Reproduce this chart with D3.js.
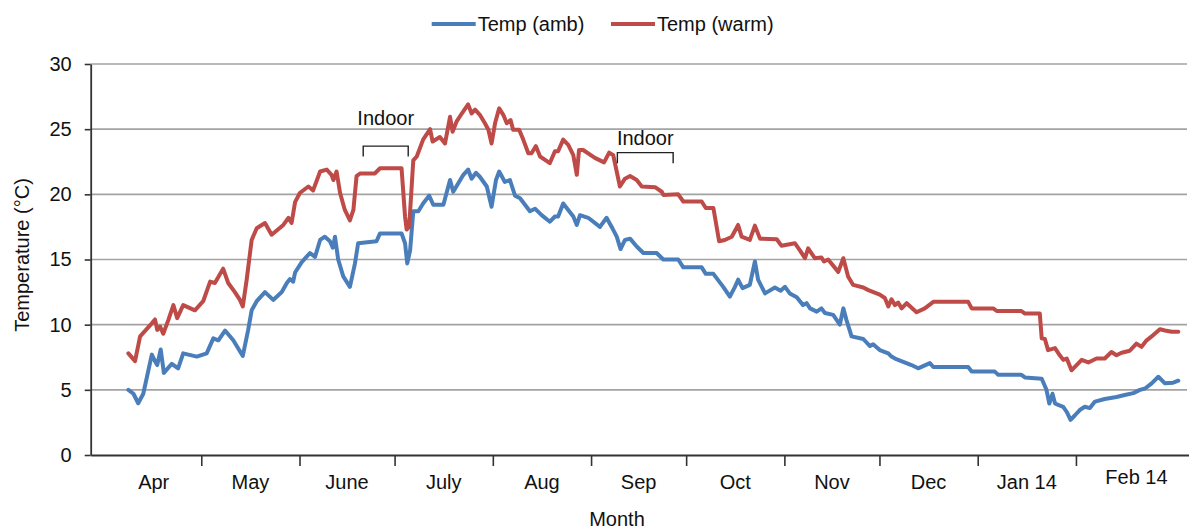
<!DOCTYPE html>
<html><head><meta charset="utf-8">
<script src="https://cdn.jsdelivr.net/npm/d3@7"></script>
<style>
body{margin:0;background:#fff}
svg text{font-family:"Liberation Sans",Arial,Helvetica,sans-serif;fill:#111}
</style>
</head><body>
<svg id="chart" width="1189" height="531"></svg>
<script>
// ---- data (day = days after 2013-04-01) ----
const seriesNames = ["Temp (amb)", "Temp (warm)"];
const warmDays = [7.0,9.1,10.7,14.4,15.4,16.1,17.0,18.0,19.6,21.2,22.4,24.3,28.0,30.6,32.8,34.3,36.9,38.5,40.6,42.2,43.1,44.3,45.9,47.5,50.1,52.2,55.9,57.5,58.5,59.6,61.1,63.8,65.3,67.5,69.6,71.1,71.7,72.7,73.8,75.3,76.9,78.0,79.0,80.1,84.8,86.4,93.2,94.3,94.8,95.6,96.9,98.0,100.0,102.2,103.0,105.3,106.9,108.5,109.3,110.6,112.2,114.2,115.3,116.4,117.9,119.5,120.6,121.6,122.7,124.0,125.3,126.4,127.6,128.4,130.3,131.6,133.2,134.2,135.6,136.9,140.0,141.6,142.6,144.2,145.8,147.4,148.5,149.2,150.5,154.2,157.1,158.7,160.0,162.1,163.7,165.3,167.4,169.0,173.2,175.3,175.8,180.5,182.1,187.9,189.2,191.6,193.4,195.2,197.4,199.4,200.5,203.1,204.7,206.3,211.6,213.1,217.3,218.9,220.5,221.5,223.6,225.7,226.5,227.8,231.0,232.6,234.1,235.7,238.9,240.5,244.1,245.7,246.8,247.8,248.9,249.9,251.0,252.6,255.7,258.3,261.0,272.0,273.1,279.9,281.0,288.8,289.9,294.6,295.2,296.2,297.2,299.4,300.9,302.0,303.1,304.6,306.2,307.8,309.9,312.5,315.1,317.2,318.8,320.4,323.0,325.1,326.7,328.3,330.4,332.5,334.1,336.2,338.3];
const warmTemps = [7.8,7.2,9.1,10.1,10.4,9.6,9.85,9.3,10.35,11.5,10.5,11.5,11.1,11.8,13.3,13.2,14.3,13.2,12.5,11.9,11.4,13.4,16.5,17.4,17.8,16.9,17.65,18.2,17.8,19.4,20.1,20.6,20.3,21.75,21.9,21.5,21.1,21.75,20.1,18.8,18.0,18.8,21.4,21.6,21.6,22.0,22.0,18.3,17.3,17.5,22.6,22.9,24.2,25.0,24.05,24.4,23.9,25.95,24.8,25.6,26.2,26.9,26.2,26.5,26.1,25.45,24.95,23.9,25.45,26.6,26.1,25.45,25.7,24.95,24.95,24.2,23.15,23.15,23.7,22.9,22.4,23.3,23.3,24.2,23.8,23.0,21.5,23.4,23.4,22.8,22.45,23.2,23.0,20.6,21.2,21.4,21.1,20.6,20.55,20.2,19.95,20.0,19.45,19.45,18.95,18.95,16.4,16.5,16.75,17.65,16.75,16.5,17.6,16.6,16.55,16.05,16.25,15.7,15.1,15.85,15.1,15.15,14.85,15.0,14.05,15.1,13.7,13.05,12.85,12.65,12.3,12.05,11.4,11.95,11.5,11.7,11.25,11.65,10.95,11.25,11.75,11.75,11.25,11.25,11.05,11.05,10.85,10.85,8.95,8.9,8.05,8.2,7.65,7.3,7.4,6.5,6.9,7.3,7.1,7.4,7.4,7.9,7.65,7.85,8.0,8.55,8.3,8.8,9.2,9.65,9.55,9.45,9.45];
const ambDays = [7.0,8.6,10.1,11.7,14.4,15.4,16.1,17.2,18.2,20.7,22.7,24.3,28.6,31.7,33.8,35.4,37.5,40.1,43.1,44.8,45.9,47.5,50.1,52.7,55.4,57.0,58.0,59.0,59.6,61.7,64.3,65.9,67.5,69.0,70.6,71.5,72.2,73.2,74.8,76.9,78.5,79.5,85.3,86.4,93.2,94.3,95.0,95.9,96.9,98.5,100.0,101.9,103.2,106.4,108.5,109.5,111.1,112.7,114.2,115.3,116.7,117.9,120.1,121.6,123.0,124.0,125.8,127.4,129.0,130.6,133.7,135.3,137.4,140.0,141.6,142.6,144.2,145.8,147.4,148.5,149.5,152.1,155.8,157.9,159.5,161.1,162.3,163.7,165.3,167.4,169.5,173.7,175.8,180.5,182.1,187.9,189.2,191.6,194.7,196.8,198.4,199.4,200.8,203.1,204.7,205.7,207.9,211.0,212.8,214.2,215.7,217.9,219.9,221.0,222.1,224.2,225.7,226.8,229.4,231.5,232.6,233.6,235.2,238.9,241.0,242.0,244.1,246.8,247.8,248.9,251.5,254.1,256.2,259.9,261.0,272.0,273.1,280.4,281.5,288.8,289.9,295.2,296.7,297.6,298.6,299.4,300.4,302.0,303.1,304.3,305.7,307.2,308.8,310.4,312.0,315.1,318.8,321.4,324.1,326.2,327.8,329.9,332.0,334.1,336.7,338.3];
const ambTemps = [5.0,4.7,3.97,4.7,7.7,7.2,6.9,8.1,6.3,7.0,6.65,7.8,7.55,7.8,8.95,8.8,9.55,8.8,7.6,9.6,11.1,11.8,12.5,11.9,12.5,13.2,13.5,13.3,14.0,14.8,15.5,15.2,16.5,16.75,16.4,15.9,16.75,15.0,13.7,12.9,14.7,16.25,16.4,17.0,17.0,16.25,14.7,15.7,18.7,18.7,19.3,19.9,19.2,19.2,21.1,20.2,20.85,21.5,21.9,21.2,21.65,21.35,20.6,19.05,21.1,21.75,20.95,21.1,19.9,19.7,18.7,18.9,18.4,17.9,18.3,18.3,19.3,18.8,18.3,17.65,18.4,18.2,17.5,18.2,17.5,16.75,15.8,16.5,16.6,16.0,15.5,15.5,15.0,15.0,14.4,14.4,13.9,13.9,12.9,12.15,12.9,13.45,12.8,13.05,14.85,13.45,12.4,12.85,12.6,12.9,12.4,12.1,11.5,11.65,11.25,11.0,11.25,10.9,10.75,10.0,11.25,10.35,9.1,8.9,8.35,8.5,8.05,7.8,7.55,7.4,7.15,6.9,6.65,7.05,6.75,6.75,6.4,6.4,6.15,6.15,5.95,5.85,5.0,3.95,4.7,3.95,3.85,3.7,3.3,2.7,3.05,3.45,3.7,3.6,4.1,4.3,4.45,4.6,4.75,5.0,5.1,5.5,6.0,5.5,5.55,5.7];
const yTicks = [0,5,10,15,20,25,30];
const monthLabels = ["Apr","May","June","July","Aug","Sep","Oct","Nov","Dec","Jan 14","Feb 14"];
const annotations = [
  {label:"Indoor", startDay:81.1, endDay:95.3, level:23.7, textLevel:25.3},
  {label:"Indoor", startDay:161.3, endDay:178.9, level:23.2, textLevel:23.8}
];

// ---- helpers ----
const DAY = 864e5;
const base = Date.UTC(2013,3,1);
const toDate = d => new Date(base + d*DAY);

const svg = d3.select("#chart");
const plotLeft = 90.7, plotRight = 1197, plotTop = 64, plotBottom = 455;

const x = d3.scaleUtc().domain([toDate(-4.89), toDate(344.2)]).range([plotLeft, plotRight]);
const y = d3.scaleLinear().domain([0,30]).range([plotBottom, plotTop]);

// gridlines
svg.append("g").selectAll("line").data(yTicks.filter(v=>v>0)).join("line")
  .attr("x1", plotLeft).attr("x2", 1187)
  .attr("y1", d=>y(d)).attr("y2", d=>y(d))
  .attr("stroke", "#a3a3a3").attr("stroke-width", 1.6);

// x axis
const monthTicks = d3.utcMonth.range(new Date(Date.UTC(2013,4,1)), new Date(Date.UTC(2014,1,2)));
const xAxis = d3.axisBottom(x).tickValues(monthTicks).tickFormat("").tickSize(11).tickSizeOuter(0);
const gx = svg.append("g").attr("transform", `translate(0,${plotBottom})`).call(xAxis);
gx.select(".domain").attr("stroke", "#333").attr("stroke-width", 1.8);
gx.selectAll(".tick line").attr("stroke", "#333").attr("stroke-width", 1.6);

// month labels centred in each month's span (last one runs to the axis end)
const [d0, d1] = x.domain();
const labelData = monthLabels.map((lab, i) => {
  const last = i === monthLabels.length - 1;
  const s = d3.utcMonth.offset(new Date(Date.UTC(2013,3,1)), i);
  const e = last ? d1 : d3.utcMonth.offset(s, 1);
  const a = s < d0 ? d0 : s, b = e > d1 ? d1 : e;
  return {lab, pos: (x(a) + x(b)) / 2, last};
});
svg.append("g").selectAll("text").data(labelData).join("text")
  .attr("x", d => d.pos).attr("y", d => d.last ? 483.5 : 488.5)
  .attr("text-anchor", "middle").attr("font-size", 20).text(d => d.lab);

// y axis
const yAxis = d3.axisLeft(y).tickValues(yTicks).tickSize(6).tickSizeOuter(0).tickPadding(13);
const gy = svg.append("g").attr("transform", `translate(${plotLeft},0)`).call(yAxis);
gy.select(".domain").attr("stroke", "#333").attr("stroke-width", 1.8);
gy.selectAll(".tick line").attr("stroke", "#333").attr("stroke-width", 1.6);
gy.selectAll(".tick text").attr("font-size", 20).attr("fill", "#111")
  .attr("font-family", "'Liberation Sans',Arial,sans-serif");

// lines
const line = d3.line().x(d => x(toDate(d[0]))).y(d => y(d[1]));
const series = [
  {name: seriesNames[0], color: "#4a7ebb", pts: d3.zip(ambDays, ambTemps)},
  {name: seriesNames[1], color: "#be4b48", pts: d3.zip(warmDays, warmTemps)}
];
svg.append("g").selectAll("path").data(series).join("path")
  .attr("d", d => line(d.pts)).attr("fill", "none")
  .attr("stroke", d => d.color).attr("stroke-width", 4)
  .attr("stroke-linejoin", "round").attr("stroke-linecap", "round");

// annotations
const ga = svg.append("g");
annotations.forEach(a => {
  const x1 = x(toDate(a.startDay)), x2 = x(toDate(a.endDay)), yy = y(a.level);
  ga.append("path").attr("d", `M${x1},${yy+10.5}V${yy}H${x2}V${yy+10.5}`)
    .attr("fill", "none").attr("stroke", "#222").attr("stroke-width", 1.4);
  ga.append("text").attr("x", (x1+x2)/2).attr("y", y(a.textLevel))
    .attr("text-anchor", "middle").attr("font-size", 20).text(a.label);
});

// legend
const legendX = [431.7, 611];
const lg = svg.append("g");
series.forEach((s, i) => {
  lg.append("line").attr("x1", legendX[i]).attr("x2", legendX[i] + 44)
    .attr("y1", 24).attr("y2", 24).attr("stroke", s.color).attr("stroke-width", 4);
  lg.append("text").attr("x", legendX[i] + 46).attr("y", 31)
    .attr("font-size", 20).text(s.name);
});

// axis titles
svg.append("text").attr("x", 617).attr("y", 526).attr("text-anchor", "middle")
  .attr("font-size", 20).text("Month");
svg.append("text").attr("transform", "translate(29,255) rotate(-90)")
  .attr("text-anchor", "middle").attr("font-size", 20).text("Temperature (°C)");
</script>
</body></html>
